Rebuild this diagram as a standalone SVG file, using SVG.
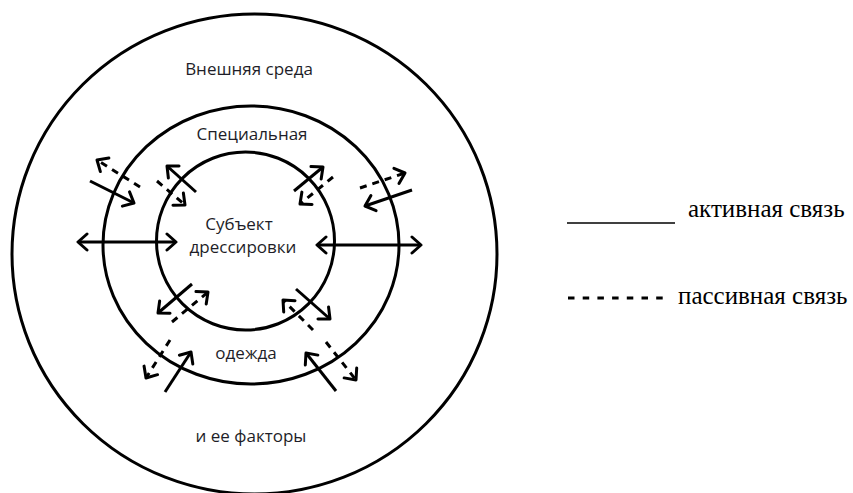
<svg xmlns="http://www.w3.org/2000/svg" width="853" height="493" viewBox="0 0 853 493">
<style>
.ring{fill:none;stroke:#000;stroke-width:3}
.lbl{font-family:"Open Sans","Noto Sans",sans-serif;font-size:17px;fill:#1e1e28;text-anchor:middle}
.leg{font-family:"Liberation Serif","Times New Roman",serif;font-size:25px;fill:#000}
.act{fill:none;stroke:#000;stroke-width:3;marker-end:url(#ah)}
.pas{fill:none;stroke:#000;stroke-width:3;stroke-dasharray:7 6;marker-end:url(#ah)}
.both{fill:none;stroke:#000;stroke-width:3;marker-end:url(#ah);marker-start:url(#ahs)}
</style>
<defs>
<marker id="ah" viewBox="-12 -10 16 20" markerWidth="16" markerHeight="20" refX="0" refY="0" orient="auto" markerUnits="userSpaceOnUse">
<path d="M-9,-8 L0,0 L-9,8" fill="none" stroke="#000" stroke-width="3" stroke-linecap="round" stroke-linejoin="round"/>
</marker>
<marker id="ahs" viewBox="-12 -10 16 20" markerWidth="16" markerHeight="20" refX="0" refY="0" orient="auto-start-reverse" markerUnits="userSpaceOnUse">
<path d="M-9,-8 L0,0 L-9,8" fill="none" stroke="#000" stroke-width="3" stroke-linecap="round" stroke-linejoin="round"/>
</marker>
</defs>
<rect width="853" height="493" fill="#fff"/>
<g id="outer">
<ellipse class="ring" cx="254.5" cy="254" rx="242.5" ry="240"/>
<text class="lbl" x="249" y="75">Внешняя среда</text>
<text class="lbl" x="251" y="442">и ее факторы</text>
</g>
<g id="middle">
<ellipse class="ring" cx="251" cy="245" rx="148" ry="139"/>
<text class="lbl" x="252" y="140">Специальная</text>
<text class="lbl" x="246" y="359">одежда</text>
</g>
<g id="inner">
<circle class="ring" cx="245.5" cy="241" r="89"/>
<text class="lbl" x="239" y="230">Субъект</text>
<text class="lbl" x="243" y="253">дрессировки</text>
</g>
<g id="connectors">
<line class="both" x1="78" y1="242" x2="176" y2="242"/>
<line class="both" x1="317" y1="245" x2="421" y2="245"/>
<line class="act" x1="90" y1="181" x2="134" y2="203"/>
<line class="pas" x1="140" y1="187" x2="97" y2="160"/>
<line class="act" x1="196" y1="192" x2="167" y2="166"/>
<line class="pas" x1="157" y1="181" x2="185" y2="205"/>
<line class="act" x1="294" y1="191" x2="323" y2="167"/>
<line class="pas" x1="333" y1="177" x2="300" y2="204"/>
<line class="act" x1="412" y1="190" x2="365" y2="206"/>
<line class="pas" x1="360" y1="188" x2="405" y2="173"/>
<line class="act" x1="192" y1="284" x2="158" y2="313"/>
<line class="pas" x1="172" y1="322" x2="208" y2="292"/>
<line class="act" x1="165" y1="392" x2="191" y2="352"/>
<line class="pas" x1="170" y1="340" x2="146" y2="378"/>
<line class="act" x1="296" y1="289" x2="330" y2="319"/>
<line class="pas" x1="313" y1="330" x2="283" y2="300"/>
<line class="act" x1="336" y1="391" x2="306" y2="353"/>
<line class="pas" x1="326" y1="342" x2="356" y2="380"/>
</g>
<g id="legend">
<line x1="567" y1="223" x2="675" y2="223" stroke="#000" stroke-width="1.5"/>
<text class="leg" x="688" y="217">активная связь</text>
<line x1="568" y1="298" x2="663" y2="298" stroke="#000" stroke-width="3" stroke-dasharray="6.5 8.2"/>
<text class="leg" x="678" y="304">пассивная связь</text>
</g>
</svg>
